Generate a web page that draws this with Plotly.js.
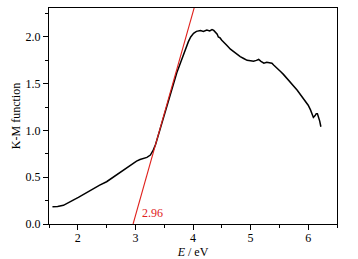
<!DOCTYPE html>
<html><head><meta charset="utf-8">
<script src="https://cdn.plot.ly/plotly-3.0.1.min.js"></script>
<style>html,body{margin:0;padding:0;background:#fff}#c{width:358px;height:259px}</style>
</head><body><div id="c"></div>
<script>
const energy = [1.56,1.65,1.75,1.84,1.92,2.01,2.10,2.18,2.27,2.38,2.50,2.61,2.73,2.82,2.91,3.02,3.08,3.14,3.20,3.26,3.31,3.35,3.45,3.55,3.65,3.72,3.78,3.85,3.89,3.92,3.96,4.01,4.06,4.13,4.18,4.24,4.29,4.33,4.36,4.39,4.42,4.44,4.47,4.50,4.55,4.59,4.65,4.71,4.77,4.82,4.88,4.94,5.00,5.05,5.10,5.14,5.18,5.23,5.28,5.34,5.37,5.40,5.46,5.52,5.57,5.63,5.69,5.75,5.81,5.87,5.91,5.95,6.00,6.04,6.07,6.09,6.12,6.14,6.16,6.18,6.20,6.22];
const kmValues = [0.185,0.188,0.20,0.225,0.256,0.285,0.317,0.348,0.38,0.415,0.452,0.50,0.548,0.585,0.623,0.673,0.69,0.70,0.712,0.737,0.79,0.85,1.06,1.27,1.48,1.62,1.72,1.84,1.89,1.95,2.00,2.04,2.06,2.07,2.06,2.075,2.065,2.08,2.07,2.055,2.03,2.00,1.99,1.966,1.94,1.91,1.87,1.84,1.81,1.79,1.77,1.75,1.745,1.74,1.75,1.76,1.74,1.72,1.73,1.72,1.72,1.70,1.67,1.63,1.60,1.56,1.52,1.47,1.43,1.38,1.35,1.32,1.27,1.22,1.17,1.14,1.16,1.18,1.18,1.15,1.10,1.04];
const fitX = [2.96, 4.10];
const fitY = [0, 2.485];
const bandGapLabel = "2.96";
const serif = "'Liberation Serif', 'Times New Roman', serif";
const data = [
  {x: energy, y: kmValues, mode: "lines", line: {color: "#000", width: 1.5}, hoverinfo: "skip"},
  {x: fitX, y: fitY, mode: "lines", line: {color: "#e0201c", width: 1.1}, hoverinfo: "skip"}
];
const axisCommon = {
  showline: true, linecolor: "#000", linewidth: 1, mirror: true,
  ticks: "outside", ticklen: 5, tickwidth: 1, tickcolor: "#000",
  showgrid: false, zeroline: false,
  tickfont: {family: serif, size: 12, color: "#000"}
};
const layout = {
  width: 358, height: 259,
  font: {family: serif, size: 12, color: "#000"},
  margin: {l: 49, r: 21, t: 8, b: 35},
  paper_bgcolor: "#fff", plot_bgcolor: "#fff",
  showlegend: false,
  xaxis: Object.assign({}, axisCommon, {
    range: [1.5, 6.5], dtick: 1, tick0: 0, ticklabelstandoff: -2,
    minor: {dtick: 0.5, ticklen: 3, ticks: "outside", tickcolor: "#000", showgrid: false},
    title: {text: "<i>E</i> / eV", font: {family: serif, size: 12, color: "#000"}, standoff: 2}
  }),
  yaxis: Object.assign({}, axisCommon, {
    range: [0, 2.31], dtick: 0.5, tick0: 0, tickformat: ".1f",
    minor: {dtick: 0.25, ticklen: 3, ticks: "outside", tickcolor: "#000", showgrid: false},
    title: {text: "K-M function", font: {family: serif, size: 12, color: "#000"}, standoff: 2}
  }),
  annotations: [{
    x: 3.30, y: 0.12, xref: "x", yref: "y", text: bandGapLabel, showarrow: false,
    font: {family: serif, size: 12, color: "#e0201c"}
  }]
};
Plotly.newPlot("c", data, layout, {staticPlot: true, displayModeBar: false});
</script></body></html>
